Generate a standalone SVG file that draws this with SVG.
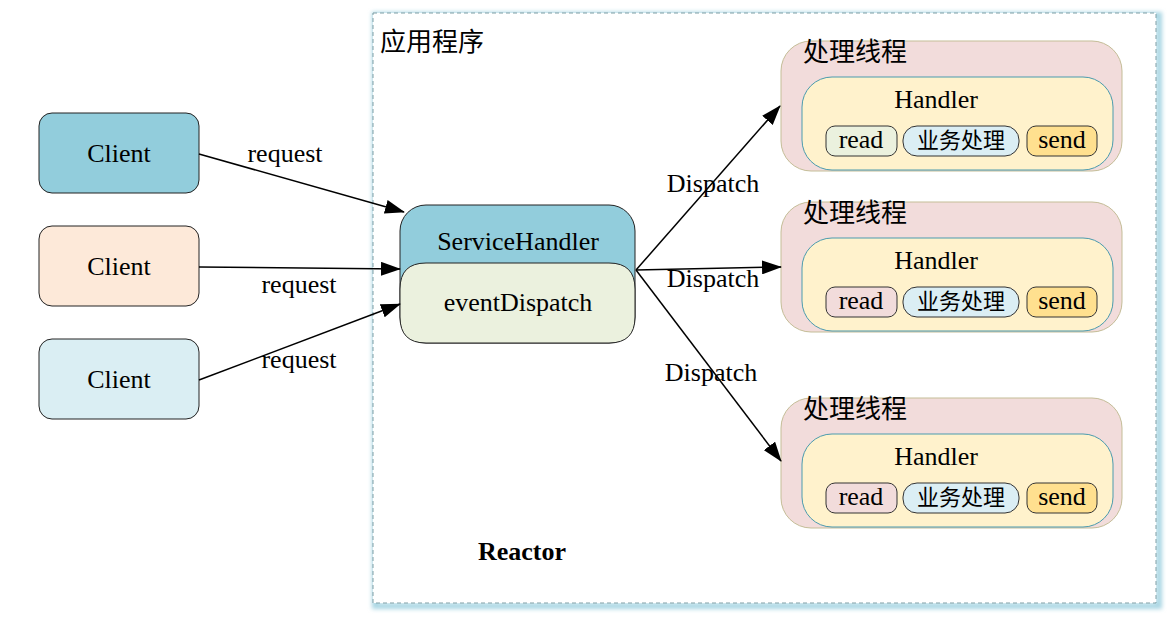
<svg xmlns="http://www.w3.org/2000/svg" width="1170" height="621" viewBox="0 0 1170 621">
<defs>
<style>
.en{font-family:"Liberation Serif","Times New Roman",serif;font-size:26px;fill:#000}
.cn{font-family:"Noto Sans CJK SC","Noto Sans",sans-serif;fill:#000}
.node{stroke:#222;stroke-width:1}
.thread{fill:#F2DCDB;stroke:#C4BD97;stroke-width:1}
.handler{fill:#FFF2CC;stroke:#4A9BAE;stroke-width:1}
.pill{stroke:#333;stroke-width:1}
.conn{stroke:#000;stroke-width:1.5;fill:none;marker-end:url(#arr)}
</style>
<marker id="arr" markerUnits="userSpaceOnUse" markerWidth="20" markerHeight="14" refX="19" refY="7" orient="auto">
<path d="M0,0 L20,7 L0,14 Z" fill="#000"/>
</marker>
<filter id="glow" x="-5%" y="-5%" width="110%" height="110%">
<feGaussianBlur stdDeviation="2"/>
</filter>
</defs>

<g id="container">
<rect x="375" y="15" width="784" height="591" fill="none" stroke="#A9D6E3" stroke-width="6" filter="url(#glow)"/>
<rect x="373" y="13" width="783" height="590" fill="#fff" stroke="#7F9FA6" stroke-width="1" stroke-dasharray="4,3"/>
<text class="cn" x="380" y="51" font-size="26">应用程序</text>
<text class="en" x="522" y="560" text-anchor="middle" font-weight="bold">Reactor</text>
</g>

<g id="client1">
<rect class="node" x="39" y="113" width="160" height="80" rx="13" fill="#92CDDC"/>
<text class="en" x="119" y="162" text-anchor="middle">Client</text>
</g>
<g id="client2">
<rect class="node" x="39" y="226" width="160" height="80" rx="13" fill="#FDE9D9"/>
<text class="en" x="119" y="275" text-anchor="middle">Client</text>
</g>
<g id="client3">
<rect class="node" x="39" y="339" width="160" height="80" rx="13" fill="#DAEEF3"/>
<text class="en" x="119" y="388" text-anchor="middle">Client</text>
</g>

<g id="serviceHandler">
<rect class="node" x="400" y="205" width="235" height="138" rx="26" fill="#92CDDC"/>
<path class="node" d="M400,289 Q400,263 426,263 H609 Q635,263 635,289 V317 Q635,343 609,343 H426 Q400,343 400,317 Z" fill="#EBF1DE"/>
<text class="en" x="518" y="250" text-anchor="middle">ServiceHandler</text>
<text class="en" x="518" y="311" text-anchor="middle">eventDispatch</text>
</g>

<g id="thread1">
<rect class="thread" x="781" y="41" width="341" height="130" rx="30"/>
<text class="cn" x="803" y="61" font-size="26">处理线程</text>
<rect class="handler" x="802" y="77" width="311" height="93" rx="30"/>
<text class="en" x="936" y="108" text-anchor="middle">Handler</text>
<rect class="pill" x="826" y="126" width="71" height="30" rx="9" fill="#EBF1DE"/>
<text class="en" x="861" y="148" text-anchor="middle">read</text>
<rect class="pill" x="903" y="126" width="116" height="30" rx="14" fill="#DBEEF4"/>
<text class="cn" x="961" y="148" font-size="22" text-anchor="middle">业务处理</text>
<rect class="pill" x="1027" y="126" width="70" height="30" rx="9" fill="#FFE08F"/>
<text class="en" x="1062" y="148" text-anchor="middle">send</text>
</g>

<g id="thread2" transform="translate(0,161)">
<rect class="thread" x="781" y="41" width="341" height="130" rx="30"/>
<text class="cn" x="803" y="61" font-size="26">处理线程</text>
<rect class="handler" x="802" y="77" width="311" height="93" rx="30"/>
<text class="en" x="936" y="108" text-anchor="middle">Handler</text>
<rect class="pill" x="826" y="126" width="71" height="30" rx="9" fill="#F2DCDB"/>
<text class="en" x="861" y="148" text-anchor="middle">read</text>
<rect class="pill" x="903" y="126" width="116" height="30" rx="14" fill="#DBEEF4"/>
<text class="cn" x="961" y="148" font-size="22" text-anchor="middle">业务处理</text>
<rect class="pill" x="1027" y="126" width="70" height="30" rx="9" fill="#FFE08F"/>
<text class="en" x="1062" y="148" text-anchor="middle">send</text>
</g>

<g id="thread3" transform="translate(0,357)">
<rect class="thread" x="781" y="41" width="341" height="130" rx="30"/>
<text class="cn" x="803" y="61" font-size="26">处理线程</text>
<rect class="handler" x="802" y="77" width="311" height="93" rx="30"/>
<text class="en" x="936" y="108" text-anchor="middle">Handler</text>
<rect class="pill" x="826" y="126" width="71" height="30" rx="9" fill="#F2DCDB"/>
<text class="en" x="861" y="148" text-anchor="middle">read</text>
<rect class="pill" x="903" y="126" width="116" height="30" rx="14" fill="#DBEEF4"/>
<text class="cn" x="961" y="148" font-size="22" text-anchor="middle">业务处理</text>
<rect class="pill" x="1027" y="126" width="70" height="30" rx="9" fill="#FFE08F"/>
<text class="en" x="1062" y="148" text-anchor="middle">send</text>
</g>

<g id="connectors">
<line class="conn" x1="199" y1="154" x2="404" y2="212"/>
<line class="conn" x1="199" y1="267" x2="400" y2="269"/>
<line class="conn" x1="199" y1="380" x2="400" y2="304"/>
<line class="conn" x1="636" y1="270" x2="780" y2="106"/>
<line class="conn" x1="636" y1="270" x2="781" y2="267"/>
<line class="conn" x1="636" y1="270" x2="781" y2="461"/>
<text class="en" x="285" y="162" text-anchor="middle">request</text>
<text class="en" x="299" y="293" text-anchor="middle">request</text>
<text class="en" x="299" y="368" text-anchor="middle">request</text>
<text class="en" x="713" y="192" text-anchor="middle">Dispatch</text>
<text class="en" x="713" y="287" text-anchor="middle">Dispatch</text>
<text class="en" x="711" y="381" text-anchor="middle">Dispatch</text>
</g>
</svg>
